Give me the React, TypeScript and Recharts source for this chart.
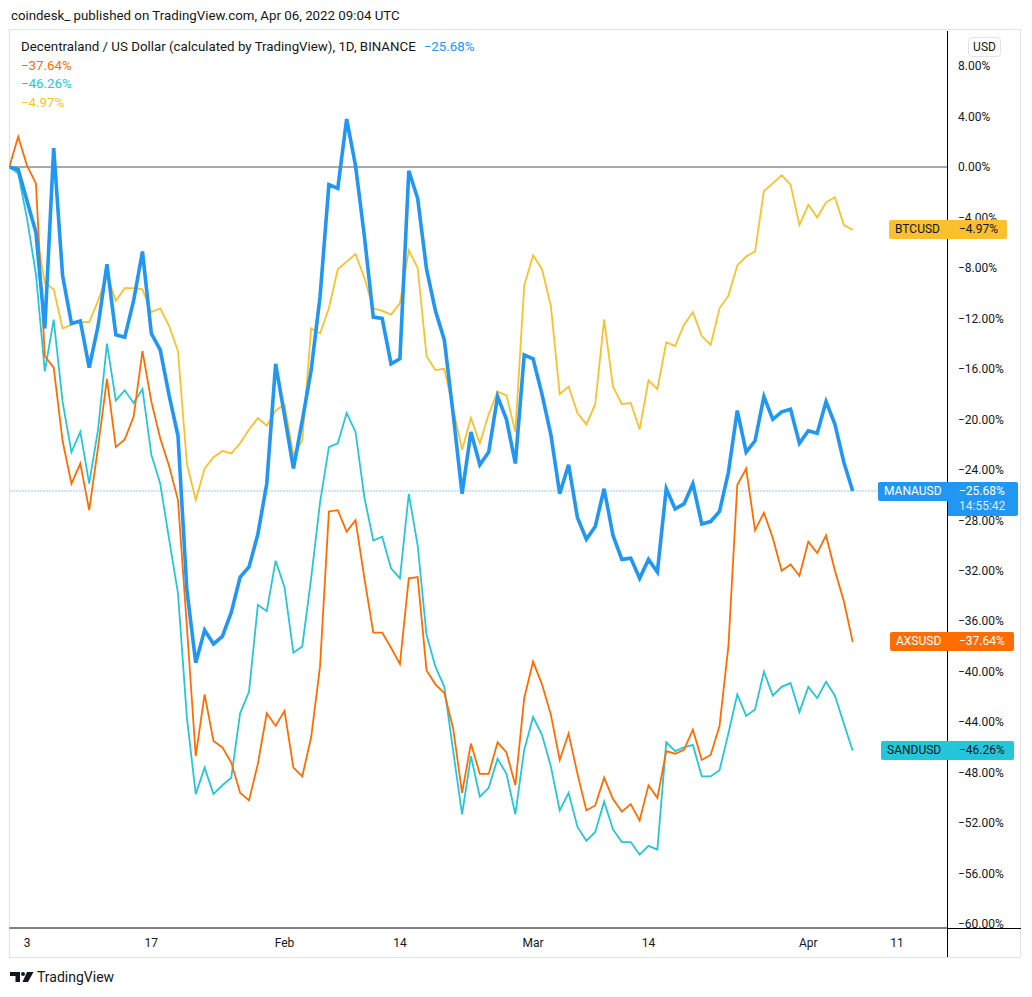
import React from "react";
import { LineChart, Line, XAxis, YAxis, ReferenceLine } from "recharts";

// ---- data (percent change since Jan 1, 2022; one point per day, Jan 1 .. Apr 6) ----
const manaValues = [
  0, -0.2, -2.7, -5.2, -12.8, 1.5, -8.6, -12.4, -12.2, -15.9,
  -12.6, -7.7, -13.3, -13.5, -10.6, -6.7, -13.2, -14.5, -18.1, -21.3,
  -33.5, -39.3, -36.7, -37.8, -37.2, -35.3, -32.5, -31.7, -29.1, -25.1,
  -15.6, -19.7, -23.9, -20.1, -16.1, -10.3, -1.4, -1.7, 3.8, 0.1,
  -5.5, -11.9, -12.0, -15.6, -15.2, -0.3, -2.5, -8.1, -11.4, -13.7,
  -19.6, -25.9, -21.0, -23.6, -22.6, -18.2, -20.0, -23.5, -14.9, -15.2,
  -18.0, -21.2, -25.9, -23.6, -27.8, -29.5, -28.5, -25.5, -29.2, -31.1,
  -31.0, -32.6, -31.1, -32.1, -25.5, -27.1, -26.7, -25.1, -28.3, -28.1,
  -27.3, -24.2, -19.3, -22.6, -21.7, -18.2, -20.0, -19.4, -19.2, -21.9,
  -20.9, -21.1, -18.6, -20.4, -23.4, -25.68,
];
const axsValues = [
  0, 2.4, 0.1, -1.3, -15.0, -15.9, -21.7, -25.1, -23.5, -27.2,
  -22.2, -16.8, -22.2, -21.6, -19.8, -14.6, -18.6, -21.5, -23.7, -26.4,
  -36.4, -46.7, -41.8, -45.5, -46.0, -47.2, -49.6, -50.2, -47.3, -43.3,
  -44.3, -43.1, -47.6, -48.3, -45.2, -39.6, -27.3, -27.2, -28.9, -28.0,
  -32.6, -36.9, -36.9, -38.1, -39.4, -32.6, -32.5, -39.9, -41.0, -41.7,
  -44.5, -49.6, -45.7, -48.1, -48.1, -45.6, -46.4, -49.0, -42.1, -39.2,
  -41.0, -43.4, -47.0, -44.9, -48.1, -51.0, -50.6, -48.4, -50.1, -51.1,
  -50.5, -51.8, -49.0, -50.0, -46.3, -46.5, -46.2, -44.6, -47.0, -46.6,
  -44.3, -38.0, -25.2, -23.9, -28.8, -27.4, -29.4, -32.0, -31.5, -32.4,
  -29.7, -30.6, -29.2, -32.0, -34.4, -37.64,
];
const sandValues = [
  0, -0.5, -4.1, -8.5, -16.2, -12.1, -18.6, -22.6, -21.0, -25.1,
  -20.8, -14.0, -18.5, -17.7, -18.7, -17.6, -22.8, -25.1, -29.5, -33.8,
  -43.6, -49.7, -47.6, -49.7, -49.0, -48.4, -43.3, -41.6, -34.7, -35.2,
  -31.2, -33.3, -38.5, -38.0, -32.6, -26.6, -22.2, -21.9, -19.5, -21.0,
  -26.2, -29.6, -29.3, -31.8, -32.6, -25.9, -30.0, -37.1, -39.6, -41.2,
  -46.3, -51.3, -46.7, -49.9, -49.2, -46.9, -48.1, -51.3, -46.2, -43.6,
  -45.0, -47.5, -51.0, -49.6, -52.3, -53.4, -52.7, -50.3, -52.5, -53.5,
  -53.5, -54.5, -53.8, -54.1, -45.6, -46.3, -46.0, -45.8, -48.3, -48.3,
  -47.8, -44.9, -41.8, -43.5, -43.0, -40.0, -41.9, -41.2, -40.9, -43.2,
  -41.2, -42.1, -40.8, -41.9, -44.1, -46.26,
];
const btcValues = [
  0, -0.4, -2.8, -5.0, -9.2, -9.7, -12.8, -12.5, -12.3, -12.3,
  -10.6, -8.6, -10.6, -9.6, -9.6, -9.7, -11.5, -11.2, -12.6, -14.6,
  -23.5, -26.4, -23.9, -23.0, -22.5, -22.7, -21.9, -20.8, -19.9, -20.5,
  -19.3, -18.8, -22.8, -21.7, -12.8, -13.2, -11.2, -8.1, -7.5, -6.9,
  -8.8, -11.2, -11.4, -11.7, -10.8, -6.6, -8.0, -15.0, -16.1, -16.0,
  -19.2, -22.4, -19.9, -21.9, -19.6, -17.8, -18.1, -21.0, -9.4, -7.0,
  -8.1, -11.0, -18.0, -17.4, -19.5, -20.4, -18.8, -12.1, -17.4, -18.8,
  -18.7, -20.8, -16.9, -17.6, -13.9, -14.2, -12.5, -11.5, -13.4, -14.1,
  -11.2, -10.2, -7.8, -7.1, -6.7, -1.9, -1.3, -0.65, -1.4, -4.6,
  -3.0, -4.0, -2.8, -2.4, -4.6, -4.97,
];

// day index since Jan 1, 2022
const dayIndex = manaValues.map((_, i) => i);

const xTickDays = [2, 16, 31, 44, 59, 72, 90, 100];
const xTickLabels = ["3", "17", "Feb", "14", "Mar", "14", "Apr", "11"];
const yTicks = [8, 4, 0, -4, -8, -12, -16, -20, -24, -28, -32, -36, -40, -44, -48, -52, -56, -60];

const lastMana = -25.68;
const lastAxs = -37.64;
const lastSand = -46.26;
const lastBtc = -4.97;

const data = dayIndex.map((d, i) => ({
  d,
  mana: manaValues[i],
  axs: axsValues[i],
  sand: sandValues[i],
  btc: btcValues[i],
}));

// ---- layout ----
const W = 1032;
const H = 997;
const PLOT_TOP = 31;
const PLOT_BOTTOM = 928;
const PLOT_LEFT = 9.3;
const PLOT_RIGHT = 947.5;
const Y_MAX = 10.779;
const Y_MIN = -60.313;
const X_MAX = 105.68;
const Y_AXIS_W = 74;
const X_AXIS_H = 30;

const C_MANA = "#2196F3";
const C_AXS = "#FF6D00";
const C_SAND = "#26C6DA";
const C_BTC = "#FBC02D";
const TXT = "#131722";
const FONT = "Roboto, 'Liberation Sans', Arial, sans-serif";

const yPx = (v: number) => PLOT_TOP + ((Y_MAX - v) / (Y_MAX - Y_MIN)) * (PLOT_BOTTOM - PLOT_TOP);
const pct = (v: number) => (v < 0 ? "\u2212" : "") + Math.abs(v).toFixed(2) + "%";

function PriceLabel({
  name, value, bg, color, left, width, extra,
}: { name: string; value: number; bg: string; color: string; left: number; width: number; extra?: string }) {
  const top = yPx(value) - 9.5;
  return (
    <>
      <div
        style={{
          position: "absolute", left, top, width: PLOT_RIGHT - left, height: 19,
          background: bg, borderRadius: "2px 0 0 2px",
        }}
      />
      <div
        style={{
          position: "absolute", left: PLOT_RIGHT, top, width: left + width - PLOT_RIGHT,
          height: extra ? 34 : 19, background: bg, borderRadius: "0 2px 2px 0",
        }}
      />
      <div style={{ position: "absolute", left: left + 6, top, height: 19, lineHeight: "19px", fontSize: 12, color, fontFamily: FONT }}>
        {name}
      </div>
      <div style={{ position: "absolute", left: 959, top, height: 19, lineHeight: "19px", fontSize: 12, color, fontFamily: FONT }}>
        {pct(value)}
      </div>
      {extra ? (
        <div style={{ position: "absolute", left: 959, top: top + 16, height: 16, lineHeight: "16px", fontSize: 12, color: "rgba(255,255,255,0.85)", fontFamily: FONT }}>
          {extra}
        </div>
      ) : null}
    </>
  );
}

export default function App() {
  return (
    <div style={{ position: "absolute", left: 0, top: 0, width: W, height: H, background: "#fff", overflow: "hidden", fontFamily: FONT }}>
      {/* publisher line */}
      <div style={{ position: "absolute", left: 11, top: 7, fontSize: 13.3, lineHeight: "18px", color: TXT, whiteSpace: "nowrap" }}>
        coindesk_ published on TradingView.com, Apr 06, 2022 09:04 UTC
      </div>

      {/* frame */}
      <div style={{ position: "absolute", left: 9, top: 29, width: 1012, height: 929, border: "1px solid #e0e3eb", boxSizing: "border-box" }} />

      <div style={{ position: "absolute", left: 0, top: 0 }}>
        <LineChart
          width={W}
          height={H}
          data={data}
          margin={{ top: PLOT_TOP, left: PLOT_LEFT, right: W - PLOT_RIGHT - Y_AXIS_W, bottom: H - PLOT_BOTTOM - X_AXIS_H }}
        >
          <XAxis
            dataKey="d"
            type="number"
            domain={[0, X_MAX]}
            allowDataOverflow
            ticks={xTickDays}
            tickFormatter={(v: number) => xTickLabels[xTickDays.indexOf(v)] ?? ""}
            tickLine={false}
            tickSize={0}
            tickMargin={10}
            height={X_AXIS_H}
            axisLine={{ stroke: "#000", strokeWidth: 1 }}
            tick={{ fill: TXT, fontSize: 12, fontFamily: FONT }}
          />
          <YAxis
            orientation="right"
            type="number"
            domain={[Y_MIN, Y_MAX]}
            allowDataOverflow
            ticks={yTicks}
            tickFormatter={pct}
            tickLine={false}
            tickSize={0}
            tickMargin={10.5}
            width={Y_AXIS_W}
            axisLine={{ stroke: "#000", strokeWidth: 1 }}
            tick={{ fill: TXT, fontSize: 12, fontFamily: FONT, textAnchor: "start" }}
          />
          <ReferenceLine y={0} stroke="#50535e" strokeWidth={1} />
          <ReferenceLine y={lastMana} stroke={C_MANA} strokeWidth={1} strokeDasharray="1 2" />
          <Line type="linear" dataKey="btc" stroke={C_BTC} strokeWidth={1.8} dot={false} isAnimationActive={false} />
          <Line type="linear" dataKey="sand" stroke={C_SAND} strokeWidth={1.8} dot={false} isAnimationActive={false} />
          <Line type="linear" dataKey="axs" stroke={C_AXS} strokeWidth={1.8} dot={false} isAnimationActive={false} />
          <Line type="linear" dataKey="mana" stroke={C_MANA} strokeWidth={3.6} dot={false} isAnimationActive={false} />
        </LineChart>
      </div>

      {/* axis line extensions */}
      <div style={{ position: "absolute", left: PLOT_RIGHT, top: PLOT_BOTTOM, width: 1021 - PLOT_RIGHT, height: 1, background: "#000" }} />
      <div style={{ position: "absolute", left: PLOT_RIGHT - 0.5, top: PLOT_BOTTOM, width: 1, height: 957 - PLOT_BOTTOM, background: "#000" }} />

      {/* legend */}
      <div style={{ position: "absolute", left: 21, top: 38, fontSize: 13.3, lineHeight: "18px", color: TXT, whiteSpace: "nowrap" }}>
        Decentraland / US Dollar (calculated by TradingView), 1D, BINANCE
        <span style={{ color: C_MANA, marginLeft: 8 }}>{pct(lastMana)}</span>
      </div>
      <div style={{ position: "absolute", left: 21, top: 57, fontSize: 13.3, lineHeight: "18px", color: C_AXS }}>{pct(lastAxs)}</div>
      <div style={{ position: "absolute", left: 21, top: 75, fontSize: 13.3, lineHeight: "18px", color: C_SAND }}>{pct(lastSand)}</div>
      <div style={{ position: "absolute", left: 21, top: 94, fontSize: 13.3, lineHeight: "18px", color: C_BTC }}>{pct(lastBtc)}</div>

      {/* USD badge */}
      <div style={{ position: "absolute", left: 968, top: 37, width: 33, height: 20, border: "1px solid #e0e3eb", borderRadius: 4, boxSizing: "border-box", fontSize: 12, lineHeight: "18px", textAlign: "center", color: TXT }}>
        USD
      </div>

      {/* last value labels */}
      <PriceLabel name="BTCUSD" value={lastBtc} bg={C_BTC} color={TXT} left={889} width={118} />
      <PriceLabel name="MANAUSD" value={lastMana} bg={C_MANA} color="#fff" left={878} width={140} extra="14:55:42" />
      <PriceLabel name="AXSUSD" value={lastAxs} bg={C_AXS} color="#fff" left={890} width={124} />
      <PriceLabel name="SANDUSD" value={lastSand} bg={C_SAND} color={TXT} left={881} width={133} />

      {/* TradingView logo */}
      <svg style={{ position: "absolute", left: 10, top: 972 }} width={24} height={10} viewBox="0 0 24 10">
        <path d="M0 0 H10 V10 H5.5 V4 H0 Z" fill={TXT} />
        <circle cx={13} cy={2} r={2} fill={TXT} />
        <path d="M17 0 H23.5 L18 10 H12.5 Z" fill={TXT} />
      </svg>
      <div style={{ position: "absolute", left: 37, top: 968, fontSize: 14, lineHeight: "18px", color: TXT }}>TradingView</div>
    </div>
  );
}
